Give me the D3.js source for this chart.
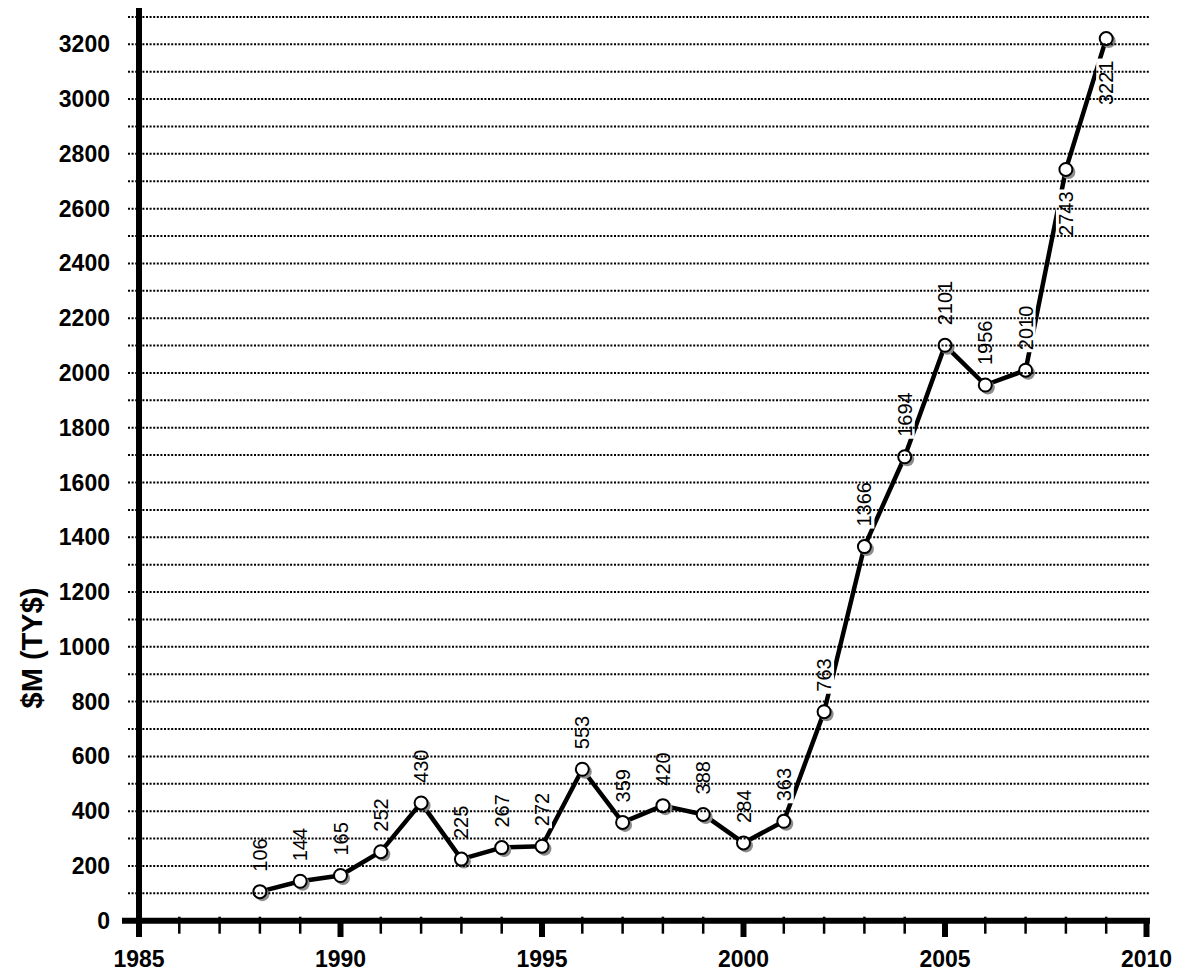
<!DOCTYPE html>
<html>
<head>
<meta charset="utf-8">
<script src="https://cdn.jsdelivr.net/npm/d3@7"></script>
<style>
  body { margin: 0; background: #fff; }
  svg { display: block; font-family: Arial, "Liberation Sans", sans-serif; }
</style>
</head>
<body>
<svg id="chart" width="1177" height="972"></svg>
<script>
const years = [1988, 1989, 1990, 1991, 1992, 1993, 1994, 1995, 1996, 1997, 1998,
               1999, 2000, 2001, 2002, 2003, 2004, 2005, 2006, 2007, 2008, 2009]
const values = [106, 144, 165, 252, 430, 225, 267, 272, 553, 359, 420,
                388, 284, 363, 763, 1366, 1694, 2101, 1956, 2010, 2743, 3221]
const yTicks = [0, 200, 400, 600, 800, 1000, 1200, 1400, 1600, 1800, 2000,
                2200, 2400, 2600, 2800, 3000, 3200]
const xTicks = [1985, 1990, 1995, 2000, 2005, 2010]
const yTitle = "$M (TY$)"

const svg = d3.select("#chart")

const x = d3.scaleLinear().domain([1985, 2010]).range([139, 1146.5])
const y = d3.scaleLinear().domain([0, 3200]).range([920.7, 44.3])

const labelGap = 20
const labelSize = 20

// data line
svg.append("path")
  .datum(years.map((yr, i) => [yr, values[i]]))
  .attr("fill", "none")
  .attr("stroke", "black")
  .attr("stroke-width", 4.5)
  .attr("stroke-linejoin", "round")
  .attr("d", d3.line().x(d => x(d[0])).y(d => y(d[1])))

// markers, gray shadow first
svg.selectAll("circle.shadow")
  .data(values)
  .join("circle")
  .attr("class", "shadow")
  .attr("cx", (d, i) => x(years[i]) + 2.5)
  .attr("cy", d => y(d) + 2.5)
  .attr("r", 7)
  .attr("fill", "#8c8c8c")
svg.selectAll("circle.dot")
  .data(values)
  .join("circle")
  .attr("class", "dot")
  .attr("cx", (d, i) => x(years[i]))
  .attr("cy", d => y(d))
  .attr("r", 6.5)
  .attr("fill", "white")
  .attr("stroke", "black")
  .attr("stroke-width", 2)

// value labels: rotated; a white box behind each one cuts the line,
// the grid is drawn between box and text
const labelBg = svg.append("g")
const gridG = svg.append("g")
const labelText = svg.append("g")

function labelTransform(v, i) {
  const below = i >= values.length - 2
  return "translate(" + x(years[i]) + "," +
    (y(v) + (below ? labelGap + 2 : -labelGap)) + ") rotate(-90)"
}

values.forEach((v, i) => {
  const below = i >= values.length - 2
  const t = labelText.append("text")
    .attr("transform", labelTransform(v, i))
    .attr("text-anchor", below ? "end" : "start")
    .attr("dominant-baseline", "central")
    .style("font-size", labelSize + "px")
    .text(v)
  const len = t.node().getComputedTextLength()
  labelBg.append("rect")
    .attr("transform", labelTransform(v, i))
    .attr("x", below ? -len - 2 : -2)
    .attr("y", -labelSize / 2)
    .attr("width", len + 4)
    .attr("height", labelSize)
    .attr("fill", "white")
})

// dotted grid, every 100
const grid = d3.range(100, 3301, 100)
gridG.selectAll("line")
  .data(grid)
  .join("line")
  .attr("x1", 128)
  .attr("x2", 1150)
  .attr("y1", d => y(d))
  .attr("y2", d => y(d))
  .attr("stroke", "black")
  .attr("stroke-width", 2)
  .attr("stroke-dasharray", "2,1.6")

// axes
svg.append("line")
  .attr("x1", x(1985)).attr("x2", x(1985))
  .attr("y1", 8).attr("y2", 937)
  .attr("stroke", "black").attr("stroke-width", 6)
svg.append("line")
  .attr("x1", 122).attr("x2", 1150)
  .attr("y1", y(0)).attr("y2", y(0))
  .attr("stroke", "black").attr("stroke-width", 6)

// x ticks: yearly minor, 5-year major
const minorYears = d3.range(1986, 2010).filter(d => d % 5 != 0)
svg.selectAll("line.minor")
  .data(minorYears)
  .join("line")
  .attr("class", "minor")
  .attr("x1", d => x(d)).attr("x2", d => x(d))
  .attr("y1", y(0) - 4).attr("y2", y(0) + 13)
  .attr("stroke", "black").attr("stroke-width", 2.5)
svg.selectAll("line.major")
  .data(xTicks.slice(1))
  .join("line")
  .attr("class", "major")
  .attr("x1", d => x(d)).attr("x2", d => x(d))
  .attr("y1", y(0)).attr("y2", 937)
  .attr("stroke", "black").attr("stroke-width", 6)

// tick labels
svg.selectAll("text.ylab")
  .data(yTicks)
  .join("text")
  .attr("class", "ylab")
  .attr("x", 110)
  .attr("y", d => y(d))
  .attr("text-anchor", "end")
  .attr("dominant-baseline", "central")
  .style("font-size", "23px")
  .style("font-weight", "bold")
  .text(d => d)

svg.selectAll("text.xlab")
  .data(xTicks)
  .join("text")
  .attr("class", "xlab")
  .attr("x", d => x(d))
  .attr("y", 967)
  .attr("text-anchor", "middle")
  .style("font-size", "23px")
  .style("font-weight", "bold")
  .text(d => d)

svg.append("text")
  .attr("transform", "translate(42,648) rotate(-90)")
  .attr("text-anchor", "middle")
  .style("font-size", "29px")
  .style("font-weight", "bold")
  .text(yTitle)
</script>
</body>
</html>
